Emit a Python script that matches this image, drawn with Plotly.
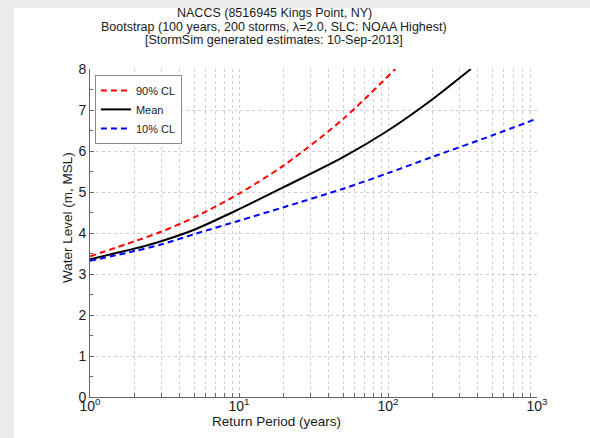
import plotly.graph_objects as go

# Return periods (years) and water levels (m, MSL)
T_90 = [1, 2, 3, 5, 10, 20, 50, 112]
cl90 = [3.43, 3.80, 4.03, 4.38, 4.96, 5.65, 6.78, 8.0]
T_mean = [1, 2, 3, 5, 10, 20, 50, 100, 200, 360]
mean = [3.36, 3.62, 3.80, 4.08, 4.58, 5.12, 5.85, 6.50, 7.27, 8.0]
T_10 = [1, 2, 3, 5, 10, 20, 50, 100, 200, 500, 1000]
cl10 = [3.32, 3.56, 3.72, 3.97, 4.30, 4.63, 5.08, 5.46, 5.86, 6.38, 6.79]

x_tickvals = [m * 10 ** e for e in range(3) for m in range(1, 10)] + [1000]
x_ticktext = [("10<sup>%d</sup>" % e if m == 1 else "") for e in range(3) for m in range(1, 10)] + ["10<sup>3</sup>"]
y_tickvals = [0, 1, 2, 3, 4, 5, 6, 7, 8]

title_lines = [
    "NACCS (8516945 Kings Point, NY)",
    "Bootstrap (100 years, 200 storms, \u03bb=2.0, SLC: NOAA Highest)",
    "[StormSim generated estimates: 10-Sep-2013]",
]

FONT = "Liberation Sans, Arial, Helvetica, sans-serif"

fig = go.Figure()
fig.add_trace(go.Scatter(x=T_90, y=cl90, mode="lines", name="90% CL",
                         line=dict(color="#ff0000", width=2, dash="6px,4px", shape="spline", smoothing=0.8)))
fig.add_trace(go.Scatter(x=T_mean, y=mean, mode="lines", name="Mean",
                         line=dict(color="#000000", width=2, shape="spline", smoothing=0.8)))
fig.add_trace(go.Scatter(x=T_10, y=cl10, mode="lines", name="10% CL",
                         line=dict(color="#0000ff", width=2, dash="6px,4px", shape="spline", smoothing=0.8)))

grid = dict(gridcolor="#cfcfcf", griddash="dot", gridwidth=1)

fig.update_layout(
    width=590, height=438,
    margin=dict(l=90, r=53, t=69, b=41),
    paper_bgcolor="white", plot_bgcolor="white",
    font=dict(family=FONT, color="#1a1a1a"),
    showlegend=True,
    legend=dict(x=0.011, y=0.982, xanchor="left", yanchor="top",
                bordercolor="#8a8a8a", borderwidth=1, bgcolor="white",
                font=dict(size=11, family=FONT, color="#1a1a1a"),
                tracegroupgap=0, itemwidth=30),
    xaxis=dict(type="log", range=[0, 3], tickmode="array", tickvals=x_tickvals,
               ticktext=x_ticktext, ticks="inside", ticklen=4, tickcolor="#666666",
               ticklabelstandoff=-4,
               showline=True, linecolor="#666666", linewidth=1, mirror=False,
               tickfont=dict(size=14, family=FONT, color="#1a1a1a"),
               zeroline=False, **grid),
    yaxis=dict(range=[0, 8], tickmode="array", tickvals=y_tickvals,
               ticks="inside", ticklen=4, tickcolor="#666666",
               minor=dict(dtick=0.5, ticks="inside", ticklen=3, tickcolor="#666666", showgrid=False),
               showline=True, linecolor="#666666", linewidth=1, mirror=False,
               tickfont=dict(size=14, family=FONT, color="#1a1a1a"),
               zeroline=False, **grid),
    shapes=[
        dict(type="rect", xref="paper", yref="paper", x0=-90/447, x1=-76/447, y0=-41/328, y1=1 + 69/328,
             fillcolor="#e9ecea", line=dict(width=0), layer="below"),
        dict(type="rect", xref="paper", yref="paper", x0=-90/447, x1=1 + 53/447, y0=1 + 61/328, y1=1 + 69/328,
             fillcolor="#e9ecea", line=dict(width=0), layer="below"),
    ],
)

ann = []
for i, (txt, yp) in enumerate(zip(title_lines, [13, 27, 40])):
    ann.append(dict(text=txt, xref="paper", yref="paper", x=(274 - 90) / 447, y=1 + (69 - yp) / 328,
                    xanchor="center", yanchor="middle", showarrow=False,
                    font=dict(size=12.5, family=FONT, color="#1a1a1a")))
ann.append(dict(text="Return Period (years)", xref="paper", yref="paper", x=(276 - 90) / 447,
                y=(397 - 421) / 328, xanchor="center", yanchor="middle", showarrow=False,
                font=dict(size=13.5, family=FONT, color="#1a1a1a")))
ann.append(dict(text="Water Level (m, MSL)", xref="paper", yref="paper", x=(67 - 90) / 447,
                y=(397 - 218) / 328, xanchor="center", yanchor="middle", showarrow=False, textangle=-90,
                font=dict(size=13.5, family=FONT, color="#1a1a1a")))
fig.update_layout(annotations=ann)

fig.write_html("out.html")
